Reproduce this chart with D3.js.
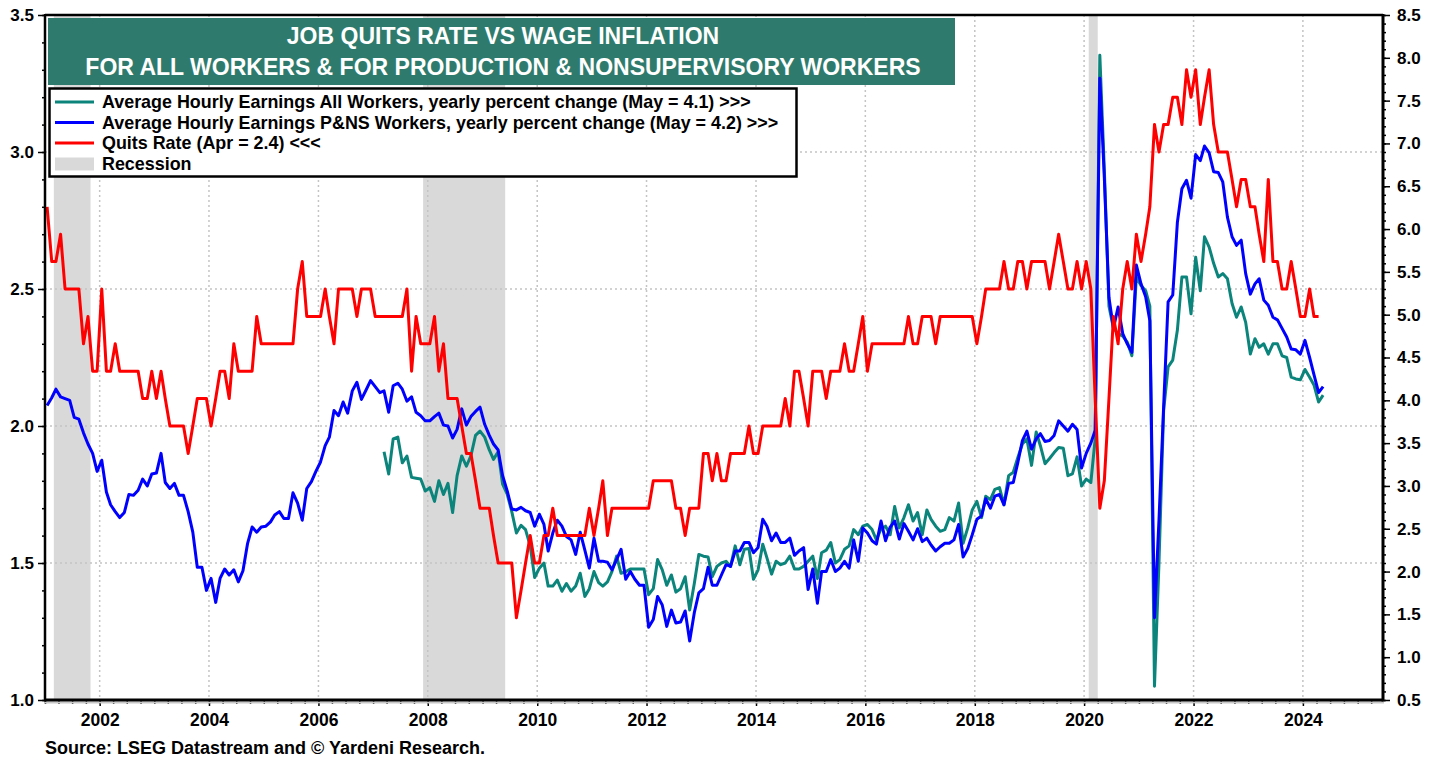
<!DOCTYPE html>
<html>
<head>
<meta charset="utf-8">
<script src="https://cdn.jsdelivr.net/npm/d3@7"></script>
<style>
  body { margin: 0; background: #fff; }
  svg { display: block; font-family: "Liberation Sans", Arial, sans-serif; }
</style>
</head>
<body>
<svg id="chart" width="1439" height="763"></svg>
<script>
// monthly series, first value = start month (year, month index)
var quitsStart = [2001, 0];
var quitsRate = [
  2.8, 2.6, 2.6, 2.7, 2.5, 2.5, 2.5, 2.5, 2.3, 2.4, 2.2, 2.2,  // 2001
  2.5, 2.2, 2.2, 2.3, 2.2, 2.2, 2.2, 2.2, 2.2, 2.1, 2.1, 2.2,  // 2002
  2.1, 2.2, 2.1, 2.0, 2.0, 2.0, 2.0, 1.9, 2.0, 2.1, 2.1, 2.1,  // 2003
  2.0, 2.1, 2.2, 2.2, 2.1, 2.3, 2.2, 2.2, 2.2, 2.2, 2.4, 2.3,  // 2004
  2.3, 2.3, 2.3, 2.3, 2.3, 2.3, 2.3, 2.5, 2.6, 2.4, 2.4, 2.4,  // 2005
  2.4, 2.5, 2.4, 2.3, 2.5, 2.5, 2.5, 2.5, 2.4, 2.5, 2.5, 2.5,  // 2006
  2.4, 2.4, 2.4, 2.4, 2.4, 2.4, 2.4, 2.5, 2.2, 2.4, 2.3, 2.3,  // 2007
  2.3, 2.4, 2.2, 2.3, 2.1, 2.1, 2.1, 2.0, 1.9, 1.9, 1.8, 1.7,  // 2008
  1.7, 1.7, 1.6, 1.5, 1.5, 1.5, 1.5, 1.3, 1.4, 1.5, 1.6, 1.5,  // 2009
  1.5, 1.6, 1.6, 1.7, 1.6, 1.6, 1.6, 1.6, 1.6, 1.6, 1.6, 1.7,  // 2010
  1.6, 1.7, 1.8, 1.6, 1.7, 1.7, 1.7, 1.7, 1.7, 1.7, 1.7, 1.7,  // 2011
  1.7, 1.8, 1.8, 1.8, 1.8, 1.8, 1.7, 1.7, 1.6, 1.7, 1.7, 1.7,  // 2012
  1.9, 1.9, 1.8, 1.9, 1.8, 1.8, 1.9, 1.9, 1.9, 1.9, 2.0, 1.9,  // 2013
  1.9, 2.0, 2.0, 2.0, 2.0, 2.0, 2.1, 2.0, 2.2, 2.2, 2.1, 2.0,  // 2014
  2.2, 2.2, 2.2, 2.1, 2.2, 2.2, 2.2, 2.3, 2.2, 2.2, 2.3, 2.4,  // 2015
  2.2, 2.3, 2.3, 2.3, 2.3, 2.3, 2.3, 2.3, 2.3, 2.4, 2.3, 2.3,  // 2016
  2.4, 2.4, 2.4, 2.3, 2.4, 2.4, 2.4, 2.4, 2.4, 2.4, 2.4, 2.4,  // 2017
  2.3, 2.4, 2.5, 2.5, 2.5, 2.5, 2.6, 2.5, 2.5, 2.6, 2.6, 2.5,  // 2018
  2.6, 2.6, 2.6, 2.6, 2.5, 2.6, 2.7, 2.6, 2.5, 2.5, 2.6, 2.5,  // 2019
  2.6, 2.5, 2.1, 1.7, 1.8, 2.1, 2.4, 2.3, 2.5, 2.6, 2.5, 2.7,  // 2020
  2.6, 2.7, 2.8, 3.1, 3.0, 3.1, 3.1, 3.2, 3.2, 3.1, 3.3, 3.2,  // 2021
  3.3, 3.1, 3.2, 3.3, 3.1, 3.0, 3.0, 3.0, 2.9, 2.8, 2.9, 2.9,  // 2022
  2.8, 2.8, 2.7, 2.6, 2.9, 2.6, 2.6, 2.5, 2.5, 2.6, 2.5, 2.4,  // 2023
  2.4, 2.5, 2.4, 2.4                                           // 2024
];

var pnsStart = [2001, 0];
var ahePNS = [
  3.94, 4.03, 4.13, 4.04, 4.02, 4.00, 3.80, 3.78, 3.62, 3.49, 3.38, 3.17,
  3.30, 2.93, 2.78, 2.70, 2.63, 2.69, 2.90, 2.89, 2.95, 3.08, 3.00, 3.14,
  3.15, 3.38, 3.04, 2.97, 3.03, 2.89, 2.89, 2.70, 2.46, 2.05, 2.05, 1.78,
  1.92, 1.64, 1.92, 2.03, 1.96, 2.02, 1.88, 2.01, 2.33, 2.52, 2.46, 2.52,
  2.53, 2.58, 2.66, 2.70, 2.62, 2.62, 2.92, 2.80, 2.60, 2.97, 3.05, 3.17,
  3.28, 3.47, 3.57, 3.88, 3.82, 3.98, 3.85, 4.11, 4.21, 4.01, 4.12, 4.23,
  4.16, 4.09, 4.11, 3.86, 4.17, 4.20, 4.13, 3.99, 4.04, 3.86, 3.82, 3.76,
  3.76, 3.81, 3.85, 3.71, 3.70, 3.56, 3.66, 3.90, 3.71, 3.81, 3.87, 3.92,
  3.72, 3.59, 3.49, 3.42, 3.12, 2.94, 2.73, 2.72, 2.75, 2.71, 2.69, 2.53,
  2.67, 2.55, 2.24, 2.45, 2.60, 2.53, 2.41, 2.37, 2.20, 2.46, 2.25, 2.04,
  2.39, 2.12, 2.12, 2.11, 2.02, 2.14, 2.26, 1.91, 2.00, 1.91, 1.84, 1.84,
  1.35, 1.44, 1.71, 1.61, 1.36, 1.55, 1.40, 1.41, 1.54, 1.19, 1.52, 1.75,
  1.80, 2.05, 1.84, 1.84, 1.96, 2.08, 2.06, 2.24, 2.24, 2.34, 2.34, 2.22,
  2.28, 2.61, 2.53, 2.36, 2.45, 2.34, 2.34, 2.39, 2.19, 2.24, 2.28, 1.79,
  2.03, 1.63, 2.00, 2.00, 2.14, 2.00, 2.04, 2.12, 2.04, 2.37, 2.12, 2.51,
  2.45, 2.36, 2.32, 2.59, 2.36, 2.52, 2.59, 2.38, 2.56, 2.47, 2.37, 2.50,
  2.35, 2.39, 2.31, 2.24, 2.29, 2.33, 2.33, 2.37, 2.55, 2.17, 2.27, 2.43,
  2.61, 2.65, 2.85, 2.74, 2.88, 2.90, 2.78, 3.03, 3.04, 3.27, 3.53, 3.64,
  3.43, 3.55, 3.61, 3.52, 3.53, 3.59, 3.76, 3.70, 3.64, 3.72, 3.66, 3.21,
  3.38, 3.50, 3.65, 7.76, 6.60, 5.20, 4.84, 5.09, 4.78, 4.66, 4.56, 5.58,
  5.36, 5.21, 4.93, 1.46, 2.60, 3.92, 5.15, 5.23, 6.08, 6.47, 6.57, 6.36,
  6.87, 6.80, 6.97, 6.89, 6.67, 6.66, 6.55, 6.14, 5.91, 5.81, 5.87, 5.48,
  5.24, 5.36, 5.42, 5.17, 5.11, 4.97, 4.94, 4.84, 4.74, 4.60, 4.59, 4.54,
  4.70, 4.50, 4.30, 4.09, 4.16
];

var allStart = [2007, 2];
var aheAll = [
                    3.40, 3.14, 3.55, 3.57, 3.27, 3.35, 3.10, 3.09, 3.08, 2.94,
  2.98, 2.82, 3.06, 2.90, 3.03, 2.69, 3.12, 3.35, 3.23, 3.35, 3.59, 3.64,
  3.57, 3.42, 3.31, 3.40, 3.02, 2.90, 2.70, 2.45, 2.54, 2.49, 2.30, 1.93,
  2.04, 2.10, 1.83, 1.83, 1.90, 1.77, 1.86, 1.77, 1.83, 1.98, 1.71, 1.80,
  2.00, 1.87, 1.83, 1.88, 2.00, 2.18, 1.98, 2.00, 2.03, 2.03, 2.03, 2.03,
  1.73, 1.80, 2.14, 2.02, 1.84, 1.96, 1.76, 1.80, 1.94, 1.55, 1.86, 2.20,
  2.18, 2.17, 1.94, 2.06, 2.10, 2.12, 2.06, 2.30, 2.08, 2.26, 2.27, 1.91,
  2.02, 2.32, 2.16, 1.97, 2.12, 2.08, 2.10, 2.18, 2.03, 2.03, 2.06, 2.12,
  2.18, 1.92, 2.22, 2.25, 2.34, 2.10, 2.14, 2.26, 2.30, 2.49, 2.43, 2.53,
  2.55, 2.49, 2.37, 2.50, 2.53, 2.43, 2.76, 2.51, 2.63, 2.78, 2.59, 2.69,
  2.43, 2.72, 2.61, 2.53, 2.47, 2.49, 2.63, 2.59, 2.80, 2.33, 2.51, 2.72,
  2.82, 2.63, 2.88, 2.84, 2.96, 2.98, 2.78, 3.12, 3.16, 3.33, 3.49, 3.55,
  3.24, 3.63, 3.47, 3.26, 3.32, 3.39, 3.45, 3.44, 3.12, 3.14, 3.34, 3.00,
  3.08, 3.04, 3.55, 8.03, 6.70, 5.10, 4.84, 4.78, 4.75, 4.68, 4.52, 5.44,
  5.34, 5.28, 5.10, 0.66, 2.10, 3.88, 4.39, 4.47, 4.82, 5.44, 5.44, 5.01,
  5.67, 5.28, 5.91, 5.79, 5.60, 5.44, 5.48, 5.42, 5.13, 4.97, 5.09, 4.91,
  4.54, 4.72, 4.62, 4.66, 4.54, 4.66, 4.66, 4.52, 4.50, 4.27, 4.25, 4.24,
  4.36, 4.27, 4.18, 3.98, 4.06
];

// recessions: [start year, start month, end year, end month]
var recessions = [[2001, 2, 2001, 10], [2007, 11, 2009, 5], [2020, 1, 2020, 3]];
var labelYears = d3.range(2002, 2025, 2);
var leftTicks = [1.0, 1.5, 2.0, 2.5, 3.0, 3.5];
var rightTicks = d3.range(0.5, 8.51, 0.5);
var gridValues = [1.5, 2.0, 2.5, 3.0];

var titleLines = ["JOB QUITS RATE VS WAGE INFLATION",
                  "FOR ALL WORKERS & FOR PRODUCTION & NONSUPERVISORY WORKERS"];
var legendItems = [
  {label: "Average Hourly Earnings All Workers, yearly percent change (May = 4.1) >>>", color: "#0b847c", kind: "line"},
  {label: "Average Hourly Earnings P&NS Workers, yearly percent change (May = 4.2) >>>", color: "#0000ff", kind: "line"},
  {label: "Quits Rate (Apr = 2.4) <<<", color: "#ff0000", kind: "line"},
  {label: "Recession", color: "#d9d9d9", kind: "box"}
];
var sourceText = "Source: LSEG Datastream and \u00a9 Yardeni Research.";

var svg = d3.select("svg#chart");
var plotLeft = 45, plotRight = 1383, plotTop = 15, plotBottom = 700;

var x = d3.scaleUtc()
    .domain([new Date(Date.UTC(2001, 0, 1)), new Date(Date.UTC(2025, 5, 19))])
    .range([plotLeft, plotRight]);
var yL = d3.scaleLinear().domain([1.0, 3.5]).range([plotBottom, plotTop]);
var yR = d3.scaleLinear().domain([0.5, 8.5]).range([plotBottom, plotTop]);

function monthly(start, values) {
  return values.map(function(v, i) {
    return {date: new Date(Date.UTC(start[0], start[1] + i, 15)), value: v};
  });
}
function ym(y, m) { return new Date(Date.UTC(y, m, 1)); }

// recession shading
svg.append("g").selectAll("rect")
    .data(recessions)
    .enter().append("rect")
    .attr("x", function(d) { return x(ym(d[0], d[1])); })
    .attr("width", function(d) { return x(ym(d[2], d[3])) - x(ym(d[0], d[1])); })
    .attr("y", plotTop)
    .attr("height", plotBottom - plotTop)
    .attr("fill", "#d9d9d9");

// dotted grid
var grid = svg.append("g").attr("stroke", "#c4c4c4").attr("stroke-width", 1.5).attr("stroke-dasharray", "2,3");
grid.selectAll("line.v")
    .data(labelYears)
    .enter().append("line")
    .attr("x1", function(d) { return x(ym(d, 0)); })
    .attr("x2", function(d) { return x(ym(d, 0)); })
    .attr("y1", plotTop).attr("y2", plotBottom);
grid.selectAll("line.h")
    .data(gridValues)
    .enter().append("line")
    .attr("x1", plotLeft).attr("x2", plotRight)
    .attr("y1", function(d) { return yL(d); })
    .attr("y2", function(d) { return yL(d); });

// series
function drawLine(data, yScale, color) {
  var line = d3.line()
      .x(function(d) { return x(d.date); })
      .y(function(d) { return yScale(d.value); });
  svg.append("path")
      .datum(data)
      .attr("d", line)
      .attr("fill", "none")
      .attr("stroke", color)
      .attr("stroke-width", 3)
      .attr("stroke-linejoin", "round");
}
drawLine(monthly(allStart, aheAll), yR, legendItems[0].color);
drawLine(monthly(pnsStart, ahePNS), yR, legendItems[1].color);
drawLine(monthly(quitsStart, quitsRate), yL, legendItems[2].color);

// axes
function styleAxis(g, size) {
  g.select(".domain").remove();
  g.selectAll(".tick line").attr("stroke", "#000").attr("stroke-width", 1.5);
  g.selectAll(".tick text")
      .attr("fill", "#000")
      .style("font-size", size + "px")
      .style("font-weight", "bold")
      .style("font-family", "'Liberation Sans', Arial, sans-serif");
}

svg.append("g")
    .attr("transform", "translate(" + plotLeft + ",0)")
    .call(d3.axisLeft(yL).tickValues(d3.range(1.0, 3.51, 0.1)).tickSize(3).tickFormat(""))
    .call(styleAxis, 17);
svg.append("g")
    .attr("transform", "translate(" + plotLeft + ",0)")
    .call(d3.axisLeft(yL).tickValues(leftTicks).tickSize(7).tickPadding(4).tickFormat(d3.format(".1f")))
    .call(styleAxis, 17);

svg.append("g")
    .attr("transform", "translate(" + plotRight + ",0)")
    .call(d3.axisRight(yR).tickValues(d3.range(0.5, 8.51, 0.1)).tickSize(3).tickFormat(""))
    .call(styleAxis, 17);
svg.append("g")
    .attr("transform", "translate(" + plotRight + ",0)")
    .call(d3.axisRight(yR).tickValues(rightTicks).tickSize(7).tickPadding(7).tickFormat(d3.format(".1f")))
    .call(styleAxis, 17);

svg.append("g")
    .attr("transform", "translate(0," + plotBottom + ")")
    .call(d3.axisBottom(x).tickValues(d3.utcMonth.every(3).range(ym(2001, 0), ym(2025, 6))).tickSize(4).tickFormat(""))
    .call(styleAxis, 17.5);
svg.append("g")
    .attr("transform", "translate(0," + plotBottom + ")")
    .call(d3.axisBottom(x).tickValues(labelYears.map(function(y) { return ym(y, 0); }))
          .tickSize(6).tickPadding(8).tickFormat(d3.utcFormat("%Y")))
    .call(styleAxis, 17.5);

// frame
var frame = svg.append("g").attr("stroke", "#000").attr("fill", "none");
frame.append("line").attr("x1", plotLeft).attr("x2", plotRight + 1).attr("y1", plotBottom + 2.5).attr("y2", plotBottom + 2.5)
    .attr("stroke", "#c8c8c8").attr("stroke-width", 2);
frame.append("line").attr("x1", plotLeft).attr("x2", plotRight).attr("y1", plotTop).attr("y2", plotTop).attr("stroke-width", 2.5);
frame.append("line").attr("x1", plotLeft).attr("x2", plotRight).attr("y1", plotBottom).attr("y2", plotBottom).attr("stroke-width", 3);
frame.append("line").attr("x1", plotLeft).attr("x2", plotLeft).attr("y1", plotTop - 1).attr("y2", plotBottom + 1.5).attr("stroke-width", 2.5);
frame.append("line").attr("x1", plotRight).attr("x2", plotRight).attr("y1", plotTop - 1).attr("y2", plotBottom + 1.5).attr("stroke-width", 3);

// title box
var title = svg.append("g");
title.append("rect")
    .attr("x", 48).attr("y", 18).attr("width", 907).attr("height", 67)
    .attr("fill", "#2e7b6d");
title.selectAll("text")
    .data(titleLines)
    .enter().append("text")
    .attr("x", 503)
    .attr("y", function(d, i) { return 44 + i * 31; })
    .attr("text-anchor", "middle")
    .attr("fill", "#fff")
    .style("font-size", "23px")
    .style("font-weight", "bold")
    .text(function(d) { return d; });

// legend
var legend = svg.append("g");
legend.append("rect")
    .attr("x", 49.5).attr("y", 88.5).attr("width", 747).attr("height", 88)
    .attr("fill", "#fff").attr("stroke", "#000").attr("stroke-width", 2.5);
var item = legend.selectAll("g.item")
    .data(legendItems)
    .enter().append("g")
    .attr("transform", function(d, i) { return "translate(0," + (102 + i * 20.5) + ")"; });
item.filter(function(d) { return d.kind === "line"; })
    .append("line")
    .attr("x1", 55).attr("x2", 94).attr("y1", 0).attr("y2", 0)
    .attr("stroke", function(d) { return d.color; })
    .attr("stroke-width", 3);
item.filter(function(d) { return d.kind === "box"; })
    .append("rect")
    .attr("x", 55).attr("y", -6).attr("width", 39).attr("height", 13)
    .attr("fill", function(d) { return d.color; });
item.append("text")
    .attr("x", 102)
    .attr("y", 6)
    .style("font-size", "17.9px")
    .style("font-weight", "bold")
    .text(function(d) { return d.label; });

svg.append("text")
    .attr("x", 45)
    .attr("y", 754)
    .style("font-size", "18px")
    .style("font-weight", "bold")
    .text(sourceText);
</script>
</body>
</html>
